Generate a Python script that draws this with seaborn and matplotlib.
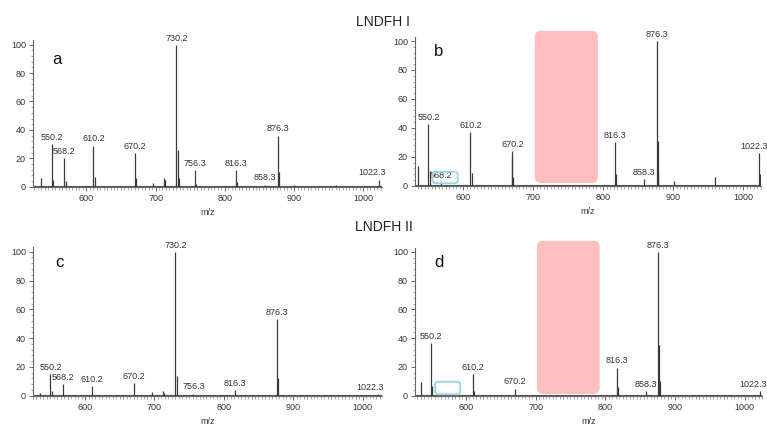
import numpy as np
import pandas as pd
import matplotlib
matplotlib.use("Agg")
import matplotlib.pyplot as plt
import seaborn as sns
from matplotlib.ticker import MultipleLocator
from matplotlib.patches import FancyBboxPatch
from matplotlib.transforms import IdentityTransform, offset_copy

# ---- data ----
mz_a = [535, 550.2, 552, 568.2, 570, 610.2, 612, 670.2, 672, 696, 712, 714, 730.2, 732, 734,
        756.3, 758, 816.3, 818, 858.3, 876.3, 878, 900, 960, 1022.3]
int_a = [6, 30, 5, 20, 4, 29, 7, 23.5, 6, 2.5, 6, 5, 100, 26, 6,
         12, 2, 12, 3, 1.5, 36, 10, 1, 1, 5]
lab_a = ["550.2", "568.2", "610.2", "670.2", "730.2", "756.3", "816.3", "858.3", "876.3", "1022.3"]

mz_b = [535, 550.2, 552, 568.2, 610.2, 612, 669, 670.2, 671, 816.3, 818, 858.3, 876.3, 877.5, 878,
        901, 960, 1022.3, 1023]
int_b = [13.6, 42.6, 10, 2.7, 37, 9, 19, 24, 6, 30.4, 8, 4.6, 100, 31, 9,
         3, 6, 22.4, 8]
lab_b = ["550.2", "568.2", "610.2", "670.2", "816.3", "858.3", "876.3", "1022.3"]

mz_c = [535, 550.2, 552, 568.2, 610.2, 670.2, 696, 712, 714, 730.2, 732, 756.3, 816.3, 876.3,
        877.5, 1022.3]
int_c = [2, 15, 3, 8, 6.7, 8.6, 2.5, 3.5, 2, 100, 14, 1.5, 4, 53, 12, 1.2]
lab_c = ["550.2", "568.2", "610.2", "670.2", "730.2", "756.3", "816.3", "876.3", "1022.3"]

mz_d = [535, 550.2, 552, 610.2, 612, 670.2, 816.3, 818, 858.3, 876.3, 877.5, 878, 1022.3]
int_d = [9.7, 36.6, 7, 15, 3, 5, 19.6, 6, 3.5, 100, 35, 10, 3]
lab_d = ["550.2", "610.2", "670.2", "816.3", "858.3", "876.3", "1022.3"]

panel_letters = ["a", "b", "c", "d"]
group_titles = ["LNDFH I", "LNDFH II"]
masked_range = (702, 792)
missing_box = (556, 592)

sns.set_theme(style="white")
plt.rcParams['font.family'] = ['Liberation Sans', 'DejaVu Sans']

W, H = 767, 426
fig = plt.figure(figsize=(W / 100, H / 100), dpi=100)

# axes boxes in pixels: left, right, top, bottom
boxes = [(33, 382, 40.4, 186.7), (415, 761, 36.7, 185.7),
         (33, 382, 247.4, 395.7), (415, 762, 247.6, 395.7)]
xlims = [(523, 1027), (531, 1025), (525, 1028), (527, 1025)]
panels = [(mz_a, int_a, lab_a), (mz_b, int_b, lab_b), (mz_c, int_c, lab_c), (mz_d, int_d, lab_d)]
letter_pos = [(0.07, 0.87), (0.067, 0.90), (0.075, 0.895), (0.07, 0.90)]
last_shift = [-6.5, -5.5, -7.5, -7.0]

axes = []
for i, ((l, r, t, b), xl, (mz, it, labs)) in enumerate(zip(boxes, xlims, panels)):
    ax = fig.add_axes([l / W, 1 - b / H, (r - l) / W, (b - t) / H])
    axes.append(ax)
    df = pd.DataFrame({"mz": mz, "intensity": it})
    # baseline through seaborn
    base = pd.DataFrame({"mz": [xl[0], xl[1]], "intensity": [0.4, 0.4]})
    sns.lineplot(data=base, x="mz", y="intensity", ax=ax, color="#555555", lw=0.8)
    ax.vlines(df["mz"], 0, df["intensity"], color="#3a3a3a", lw=0.9)
    shifted = offset_copy(ax.transData, fig=fig, x=last_shift[i], y=0, units="dots")
    for j, lab in enumerate(labs):
        x = float(lab)
        top = df.loc[(df["mz"] - x).abs() < 0.05, "intensity"].max()
        tr = shifted if j == len(labs) - 1 else ax.transData
        ax.text(x, top + 1.5, lab, ha="center", va="bottom", fontsize=6.5, color="#333333",
                transform=tr, clip_on=False)
    ax.set_xlim(*xl)
    ax.set_ylim(0, 103)
    ax.xaxis.set_major_locator(MultipleLocator(100))
    ax.xaxis.set_minor_locator(MultipleLocator(5))
    ax.yaxis.set_major_locator(MultipleLocator(20))
    ax.yaxis.set_minor_locator(MultipleLocator(4))
    ax.tick_params(which="major", length=3, width=0.7, color="#666666", labelsize=6.5,
                   labelcolor="#333333", pad=2, bottom=True, left=True)
    ax.tick_params(which="minor", length=1.8, width=0.5, color="#888888", bottom=True, left=True)
    for s in ["top", "right"]:
        ax.spines[s].set_visible(False)
    for s in ["left", "bottom"]:
        ax.spines[s].set_color("#666666")
        ax.spines[s].set_linewidth(0.8)
    ax.set_xlabel("m/z", fontsize=6.5, color="#333333", labelpad=4)
    ax.set_ylabel("")
    ax.patch.set_alpha(0)
    ax.text(*letter_pos[i], panel_letters[i], transform=ax.transAxes, fontsize=12,
            ha="center", va="center", color="#111111")

fig.text(0.5, 1 - 22 / H, group_titles[0], ha="center", va="center", fontsize=10, color="#222222")
fig.text(0.5, 1 - 227 / H, group_titles[1], ha="center", va="center", fontsize=10, color="#222222")

fig.canvas.draw()
# overlays: masked region (pink) and missing-peak box (cyan) on panels b and d
mask_y = [(1.9, 107), (1.2, 107.7)]
box_y = [(1.7, 9.7), (1.0, 9.7)]
for ax, my, by in zip([axes[1], axes[3]], mask_y, box_y):
    (x0, y0) = ax.transData.transform((masked_range[0], my[0]))
    (x1, y1) = ax.transData.transform((masked_range[1], my[1]))
    fig.patches.append(FancyBboxPatch((x0 + 6, y0 + 6), x1 - x0 - 12, y1 - y0 - 12,
                                      boxstyle="round,pad=6", transform=IdentityTransform(),
                                      facecolor="#ffbfc1", edgecolor="none", zorder=10,
                                      figure=fig))
    (x0, y0) = ax.transData.transform((missing_box[0], by[0]))
    (x1, y1) = ax.transData.transform((missing_box[1], by[1]))
    fig.patches.append(FancyBboxPatch((x0 + 3, y0 + 3), x1 - x0 - 6, y1 - y0 - 6,
                                      boxstyle="round,pad=3", transform=IdentityTransform(),
                                      facecolor="none", edgecolor="#9ad6ea", lw=1.4, zorder=10,
                                      figure=fig))

fig.savefig("out.png", dpi=100)
